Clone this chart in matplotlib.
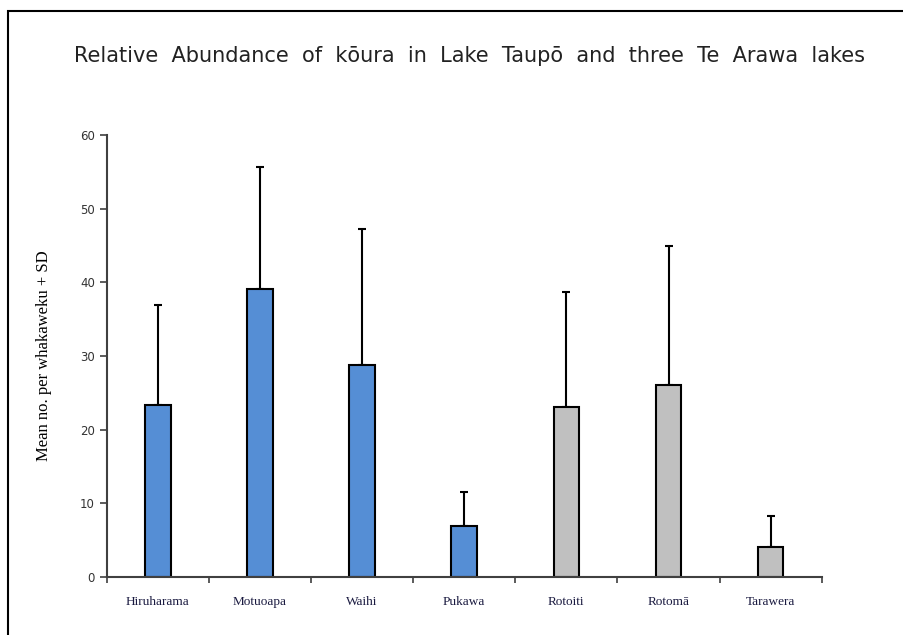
import numpy as np
import matplotlib.pyplot as plt
from matplotlib.patches import Rectangle

sites = ['Hiruharama', 'Motuoapa', 'Waihi', 'Pukawa', 'Rotoiti', 'Rotomā', 'Tarawera']
means = [23.3, 39.1, 28.8, 6.9, 23.1, 26.1, 4.1]
upper = [36.9, 55.6, 47.2, 11.5, 38.7, 44.9, 8.3]
colours = ['#558ED5', '#558ED5', '#558ED5', '#558ED5', '#C0C0C0', '#C0C0C0', '#C0C0C0']

sd = np.array(upper) - np.array(means)
x = np.arange(len(sites))

fig = plt.figure(figsize=(9.04, 6.35), dpi=100)
ax = fig.add_axes([0.118, 0.0913, 0.791, 0.696])

ax.bar(x, means, width=0.25, color=colours, edgecolor='black', linewidth=1.5, zorder=2)
ax.errorbar(x, means, yerr=[np.zeros(len(sd)), sd], fmt='none', ecolor='black',
            elinewidth=1.5, capsize=3, capthick=1.5, zorder=1)

ax.set_xlim(-0.5, len(sites) - 0.5)
ax.set_ylim(0, 60)
ax.set_yticks(range(0, 61, 10))
ax.tick_params(axis='y', direction='out', length=5, width=1.2, colors='#404040',
               labelsize=8.5, labelcolor='#333333')
ax.set_xticks(x)
ax.set_xticklabels(sites, fontfamily='Liberation Serif', fontsize=9.5, color='#1a1a40')
ax.tick_params(axis='x', length=0, pad=14)
ax.set_xticks(np.arange(-0.5, len(sites), 1), minor=True)
ax.tick_params(axis='x', which='minor', direction='out', length=4, width=1.2, colors='#404040')

for s in ['top', 'right']:
    ax.spines[s].set_visible(False)
for s in ['left', 'bottom']:
    ax.spines[s].set_color('#404040')
    ax.spines[s].set_linewidth(1.5)

ax.set_ylabel('Mean no. per whakaweku + SD', fontfamily='Liberation Serif', fontsize=12, labelpad=20)

fig.text(0.519, 0.912, 'Relative  Abundance  of  kōura  in  Lake  Taupō  and  three  Te  Arawa  lakes',
         ha='center', va='center', fontsize=15, color='#222222')

fig.patches.append(Rectangle((0.009, -0.1), 1.2, 1.1 - 0.017, transform=fig.transFigure,
                             fill=False, edgecolor='black', linewidth=1.5))

fig.savefig('out.png', dpi=100)
